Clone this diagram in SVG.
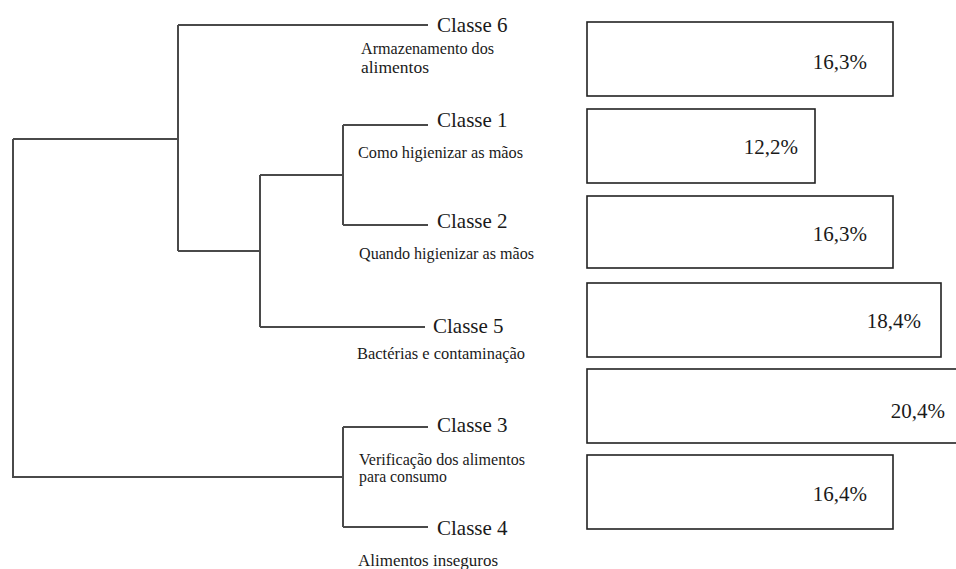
<svg xmlns="http://www.w3.org/2000/svg" width="956" height="569" viewBox="0 0 956 569">
<style>
.ln{fill:none;stroke:#4a4a4a;stroke-width:2}
.bx{fill:#fff;stroke:#222;stroke-width:1.6}
</style>
<rect width="956" height="569" fill="#fff"/>
<g id="connectors">
<path class="ln" d="M178,25 H428 M178,25 V251 M13,139 H178 M13,139 V477 H343 M343,427 V527 M343,427 H428 M343,527 H428 M178,251 H260 M260,175 V327 M260,175 H343 M343,125 V225 M343,125 H428 M343,225 H428 M260,327 H425"/>
</g>
<g font-family="Liberation Serif" fill="#1a1a1a">
<g id="classe6">
<text font-size="21" x="437" y="32">Classe 6</text>
<text font-size="16" x="361" y="54" textLength="133" lengthAdjust="spacingAndGlyphs">Armazenamento dos</text>
<text font-size="16" x="361" y="73" textLength="68" lengthAdjust="spacingAndGlyphs">alimentos</text>
<rect class="bx" x="587" y="22" width="306" height="74"/>
<text font-size="21" text-anchor="end" x="867" y="69">16,3%</text>
</g>
<g id="classe1">
<text font-size="21" x="437" y="127">Classe 1</text>
<text font-size="16" x="358" y="158" textLength="165" lengthAdjust="spacingAndGlyphs">Como higienizar as mãos</text>
<rect class="bx" x="587" y="109" width="228" height="74"/>
<text font-size="21" text-anchor="end" x="798" y="154">12,2%</text>
</g>
<g id="classe2">
<text font-size="21" x="437" y="228">Classe 2</text>
<text font-size="16" x="359" y="259" textLength="175" lengthAdjust="spacingAndGlyphs">Quando higienizar as mãos</text>
<rect class="bx" x="587" y="196" width="306" height="72"/>
<text font-size="21" text-anchor="end" x="867" y="241">16,3%</text>
</g>
<g id="classe5">
<text font-size="21" x="433" y="333">Classe 5</text>
<text font-size="16" x="357" y="359" textLength="168" lengthAdjust="spacingAndGlyphs">Bactérias e contaminação</text>
<rect class="bx" x="587" y="283" width="354" height="74"/>
<text font-size="21" text-anchor="end" x="921" y="328">18,4%</text>
</g>
<g id="classe3">
<text font-size="21" x="437" y="432">Classe 3</text>
<text font-size="16" x="359" y="465" textLength="166" lengthAdjust="spacingAndGlyphs">Verificação dos alimentos</text>
<text font-size="16" x="359" y="482" textLength="88" lengthAdjust="spacingAndGlyphs">para consumo</text>
<rect class="bx" x="587" y="369" width="380" height="74"/>
<text font-size="21" text-anchor="end" x="945" y="418">20,4%</text>
</g>
<g id="classe4">
<text font-size="21" x="437" y="535">Classe 4</text>
<text font-size="16" x="358" y="566" textLength="140" lengthAdjust="spacingAndGlyphs">Alimentos inseguros</text>
<rect class="bx" x="587" y="455" width="306" height="74"/>
<text font-size="21" text-anchor="end" x="867" y="501">16,4%</text>
</g>
</g>
</svg>
